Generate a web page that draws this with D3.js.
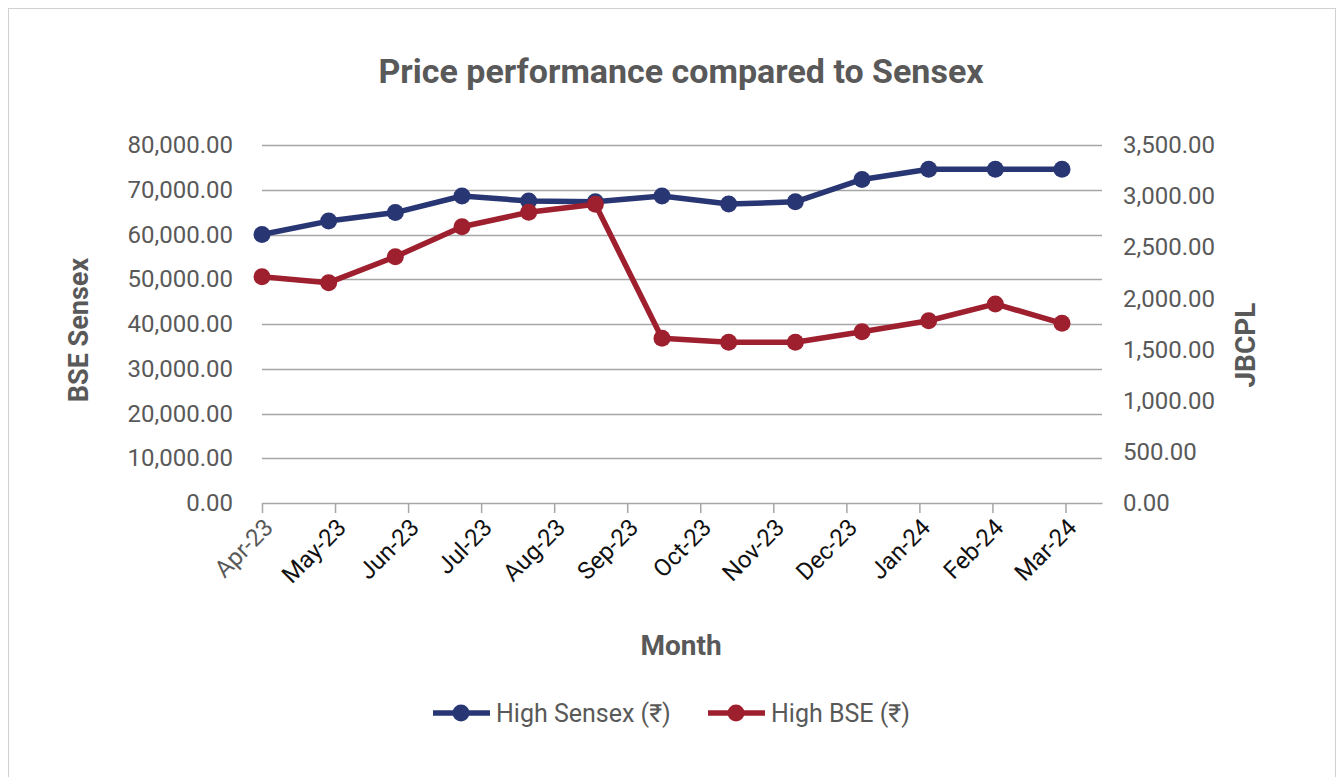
<!DOCTYPE html>
<html>
<head>
<meta charset="utf-8">
<script src="https://cdn.jsdelivr.net/npm/d3@7"></script>
<style>
  body { margin: 0; background: #fff; }
  text { font-family: Roboto, 'Noto Sans', sans-serif; }
</style>
</head>
<body>
<div id="chart"></div>
<script>
const months = ['Apr-23', 'May-23', 'Jun-23', 'Jul-23', 'Aug-23', 'Sep-23',
  'Oct-23', 'Nov-23', 'Dec-23', 'Jan-24', 'Feb-24', 'Mar-24']

// 13 readings per series, as plotted in the source
const highSensex = [60000, 63000, 64900, 68600, 67500, 67300, 68600,
  66800, 67300, 72300, 74600, 74600, 74600]
const highBse = [2212, 2154, 2408, 2701, 2842, 2920, 1610,
  1571, 1571, 1675, 1782, 1946, 1757]

const leftTicks = [0, 10000, 20000, 30000, 40000, 50000, 60000, 70000, 80000]
const rightTicks = [0, 500, 1000, 1500, 2000, 2500, 3000, 3500]

const fullWidth = 1344
const fullHeight = 777
const margin = { top: 145, left: 262, right: 242, bottom: 274 }
const width = fullWidth - margin.left - margin.right
const height = fullHeight - margin.top - margin.bottom

const blue = '#283673'
const red = '#9e1f2d'
const textGray = '#595959'

const root = d3
  .select('#chart')
  .append('svg')
  .attr('width', fullWidth)
  .attr('height', fullHeight)

// outer frame
root
  .append('rect')
  .attr('x', 8.5)
  .attr('y', 8.5)
  .attr('width', 1327)
  .attr('height', 780)
  .attr('fill', 'none')
  .attr('stroke', '#d0d0d0')

const svg = root
  .append('g')
  .attr('transform', 'translate(' + margin.left + ',' + margin.top + ')')

const yLeft = d3.scaleLinear().domain([0, 80000]).range([height, 0])
const yRight = d3.scaleLinear().domain([0, 3500]).range([height, 0])
// month ticks and the 13 data points sit on slightly different spacings
const xTick = d3.scaleLinear().domain([0, 11.5]).range([0, width])
const xPoint = d3.scaleLinear().domain([0, 12.6]).range([0, width])

const fmt = d3.format(',.2f')

// gridlines
svg
  .selectAll('.grid')
  .data(leftTicks.slice(1))
  .enter()
  .append('line')
  .attr('class', 'grid')
  .attr('x1', 0)
  .attr('x2', width)
  .attr('y1', d => Math.round(yLeft(d)) + 0.5)
  .attr('y2', d => Math.round(yLeft(d)) + 0.5)
  .attr('stroke', '#a6a6a6')
  .attr('stroke-width', 1.5)

const yAxisLeft = d3
  .axisLeft(yLeft)
  .tickValues(leftTicks)
  .tickFormat(fmt)
  .tickSize(0)
  .tickPadding(29)
svg
  .append('g')
  .attr('class', 'axis y-axis')
  .call(yAxisLeft)
  .call(g => g.select('.domain').remove())
  .selectAll('text')
  .attr('font-size', 24)
  .attr('fill', textGray)

const yAxisRight = d3
  .axisRight(yRight)
  .tickValues(rightTicks)
  .tickFormat(fmt)
  .tickSize(0)
  .tickPadding(21)
svg
  .append('g')
  .attr('class', 'axis y-axis-right')
  .attr('transform', 'translate(' + width + ',0)')
  .call(yAxisRight)
  .call(g => g.select('.domain').remove())
  .selectAll('text')
  .attr('font-size', 24)
  .attr('fill', textGray)

const xAxis = d3
  .axisBottom(xTick)
  .tickValues(d3.range(months.length))
  .tickFormat(i => months[i])
  .tickSizeInner(10)
  .tickSizeOuter(0)
const xg = svg
  .append('g')
  .attr('class', 'axis x-axis')
  .attr('transform', 'translate(0,' + height + ')')
  .call(xAxis)
xg.select('.domain').attr('stroke', '#a6a6a6').attr('stroke-width', 1.5)
xg.selectAll('line').attr('stroke', '#a6a6a6').attr('stroke-width', 1.5)
xg
  .selectAll('text')
  .attr('font-size', 24)
  .attr('fill', (d, i) => (i === 0 ? textGray : '#111'))
  .attr('text-anchor', 'end')
  .attr('dy', 0)
  .attr('y', 0)
  .attr('transform', 'translate(12,26) rotate(-45)')

// lines + markers
const series = [
  { key: 'sensex', values: highSensex, y: yLeft, color: blue },
  { key: 'bse', values: highBse, y: yRight, color: red }
]

series.forEach(s => {
  const line = d3
    .line()
    .x((d, i) => xPoint(i))
    .y(d => s.y(d))
  svg
    .append('path')
    .datum(s.values)
    .attr('d', line)
    .attr('fill', 'none')
    .attr('stroke', s.color)
    .attr('stroke-width', 5.5)
    .attr('stroke-linejoin', 'round')
  svg
    .selectAll('.dot-' + s.key)
    .data(s.values)
    .enter()
    .append('circle')
    .attr('class', 'dot-' + s.key)
    .attr('cx', (d, i) => xPoint(i))
    .attr('cy', d => s.y(d))
    .attr('r', 8.5)
    .attr('fill', s.color)
})

// titles
root
  .append('text')
  .attr('x', 681)
  .attr('y', 83)
  .attr('text-anchor', 'middle')
  .attr('font-size', 34)
  .attr('font-weight', 'bold')
  .attr('fill', textGray)
  .text('Price performance compared to Sensex')

root
  .append('text')
  .attr('transform', 'translate(88,330) rotate(-90)')
  .attr('text-anchor', 'middle')
  .attr('font-size', 27)
  .attr('font-weight', 'bold')
  .attr('fill', textGray)
  .text('BSE Sensex')

root
  .append('text')
  .attr('transform', 'translate(1255,345) rotate(-90)')
  .attr('text-anchor', 'middle')
  .attr('font-size', 28)
  .attr('font-weight', 'bold')
  .attr('fill', textGray)
  .text('JBCPL')

root
  .append('text')
  .attr('x', 681)
  .attr('y', 655)
  .attr('text-anchor', 'middle')
  .attr('font-size', 28)
  .attr('font-weight', 'bold')
  .attr('fill', textGray)
  .text('Month')

// legend
const legendItems = [
  { label: 'High Sensex (₹)', color: blue, x: 433 },
  { label: 'High BSE (₹)', color: red, x: 708 }
]
const legend = root
  .selectAll('.legend')
  .data(legendItems)
  .enter()
  .append('g')
  .attr('class', 'legend')
  .attr('transform', d => 'translate(' + d.x + ',713)')
legend
  .append('line')
  .attr('x1', 0)
  .attr('x2', 57)
  .attr('stroke', d => d.color)
  .attr('stroke-width', 5.5)
legend
  .append('circle')
  .attr('cx', 28)
  .attr('r', 8.5)
  .attr('fill', d => d.color)
legend
  .append('text')
  .attr('x', 63)
  .attr('y', 9)
  .attr('font-size', 25)
  .attr('fill', textGray)
  .text(d => d.label)
</script>
</body>
</html>
